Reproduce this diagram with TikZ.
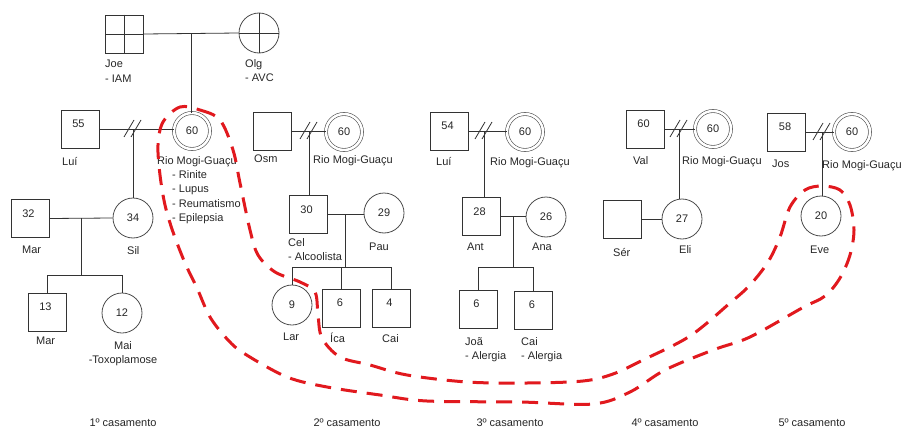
\documentclass[tikz,border=0pt]{standalone}
\usepackage{fontspec}
\setmainfont{Liberation Sans}
\usepackage{tikz}
\usetikzlibrary{calc}
\definecolor{risco}{RGB}{225,25,30}
\newcommand\idade[1]{\raisebox{1.2pt}[0pt][0pt]{\makebox[0pt]{#1\hspace{3pt}}}}
\newcommand\separa[1]{\draw[rel] ([shift={(-9,8)}]#1) -- ++(10,-17) ([shift={(-2,8)}]#1) -- ++(10,-17);}

\begin{document}
\begin{tikzpicture}[x=1pt, y=-1pt, font=\fontsize{11}{14.5}\selectfont,
    every node/.style={text=black!85},
    sq/.style={draw=black!80, line width=0.8pt, minimum size=38pt, inner sep=0pt},
    fem/.style={circle, draw=black!70, line width=0.8pt, minimum size=40pt, inner sep=0pt},
    prob/.style={circle, draw=black!70, line width=0.6pt, double, double distance=2.5pt, minimum size=36pt, inner sep=0pt},
    lbl/.style={anchor=north west, inner sep=0pt, align=left},
    rel/.style={draw=black!80, line width=0.8pt}]
    \useasboundingbox (0,0) rectangle (902,428);
    % avos
    \node[sq] (joe) at (124.5,34) {};
    \node[fem] (olg) at (259,33) {};
    \draw[rel] (joe.north) -- (joe.south) (joe.west) -- (joe.east);
    \draw[rel] (olg.north) -- (olg.south) (olg.west) -- (olg.east);
    \draw[rel] (joe.east) -- (olg.west);
    \coordinate (avos) at ($(joe.east)!0.5!(olg.west)$);
    \node[lbl] (joeL) at (105,60) {Joe\\- IAM};
    \node[lbl] (olgL) at (245,59) {Olg\\- AVC};
    % 1o casamento
    \node[sq] (lui1) at (80,129) {\idade{55}};
    \node[prob] (rio1) at (192,131) {60};
    \draw[rel] (avos) -- (avos |- rio1.north);
    \draw[rel] (lui1.east) -- (lui1.east -| rio1.west);
    \coordinate (d1) at (133,129);
    \separa{d1}
    \node[sq] (mar1) at (30,218.5) {\idade{32}};
    \node[fem] (sil) at (133,218) {34};
    \draw[rel] (d1) -- (sil.north);
    \draw[rel] (mar1.east) -- (sil.west);
    \coordinate (c1) at ($(mar1.east)!0.5!(sil.west)$);
    \draw[rel] (c1) -- ++(0,57) coordinate (f1);
    \node[sq] (mar2) at (47,312) {\idade{13}};
    \node[fem] (mai) at (122,313) {12};
    \draw[rel] (mar2.north) |- (f1) -| (mai.north);
    \node[lbl] (lui1L) at (62,157) {Luí};
    \node[lbl] (rio1L) at (157,156) {Rio Mogi-Guaçu};
    \node[lbl] (doen) at (172,170) {- Rinite\\- Lupus\\- Reumatismo\\- Epilepsia};
    \node[lbl] (mar1L) at (22,246) {Mar};
    \node[lbl] (silL) at (127,246) {Sil};
    \node[lbl] (mar2L) at (36,337) {Mar};
    \node[anchor=north, inner sep=0pt, align=center] (maiL) at (123,341) {Mai\\-Toxoplamose};
    % 2o casamento
    \node[sq] (osm) at (272.5,131) {};
    \node[prob] (rio2) at (344,132) {60};
    \draw[rel] (osm.east) -- (osm.east -| rio2.west);
    \coordinate (d2) at (309,131);
    \separa{d2}
    \node[sq] (cel) at (308,214.5) {\idade{30}};
    \node[fem] (pau) at (384,213) {29};
    \draw[rel] (d2) -- (d2 |- cel.north);
    \draw[rel] (cel.east) -- (cel.east -| pau.west);
    \coordinate (c2) at ($(cel.east)!0.5!(cel.east -| pau.west)$);
    \draw[rel] (c2) -- ++(0,53) coordinate (f2);
    \node[fem] (lar) at (292,305) {9};
    \node[sq] (ica) at (341.5,308) {\idade{6}};
    \node[sq] (cai2) at (391,308) {\idade{4}};
    \draw[rel] (lar.north) |- (f2) -| (cai2.north);
    \draw[rel] (ica.north) -- (ica.north |- f2);
    \node[lbl] (osmL) at (254,155) {Osm};
    \node[lbl] (rio2L) at (313,155) {Rio Mogi-Guaçu};
    \node[lbl] (celL) at (288,238) {Cel\\- Alcoolista};
    \node[lbl] (pauL) at (369,243) {Pau};
    \node[lbl] (larL) at (283,333) {Lar};
    \node[lbl] (icaL) at (330,333) {Íca};
    \node[lbl] (cai2L) at (382,334) {Cai};
    % 3o casamento
    \node[sq] (lui3) at (449,131) {\idade{54}};
    \node[prob] (rio3) at (525,132) {60};
    \draw[rel] (lui3.east) -- (lui3.east -| rio3.west);
    \coordinate (d3) at (484,131);
    \separa{d3}
    \node[sq] (ant) at (481,216.5) {\idade{28}};
    \node[fem] (ana) at (546,217) {26};
    \draw[rel] (d3) -- (d3 |- ant.north);
    \draw[rel] (ant.east) -- (ant.east -| ana.west);
    \coordinate (c3) at ($(ant.east)!0.5!(ant.east -| ana.west)$);
    \draw[rel] (c3) -- ++(0,51) coordinate (f3);
    \node[sq] (joa) at (478,309) {\idade{6}};
    \node[sq] (cai3) at (533.5,310) {\idade{6}};
    \draw[rel] (joa.north) |- (f3) -| (cai3.north);
    \node[lbl] (lui3L) at (436,157) {Luí};
    \node[lbl] (rio3L) at (490,157) {Rio Mogi-Guaçu};
    \node[lbl] (antL) at (467,243) {Ant};
    \node[lbl] (anaL) at (532,243) {Ana};
    \node[lbl] (joaL) at (465,337) {Joã\\- Alergia};
    \node[lbl] (cai3L) at (521,337) {Cai\\- Alergia};
    % 4o casamento
    \node[sq] (val) at (645,129) {\idade{60}};
    \node[prob] (rio4) at (713,129) {60};
    \draw[rel] (val.east) -- (rio4.west);
    \coordinate (d4) at (679,129);
    \separa{d4}
    \node[fem] (eli) at (682,219) {27};
    \node[sq] (ser) at (622.5,219.5) {};
    \draw[rel] (d4) -- (d4 |- eli.north);
    \draw[rel] (ser.east) -- (ser.east -| eli.west);
    \node[lbl] (valL) at (633,156) {Val};
    \node[lbl] (rio4L) at (682,156) {Rio Mogi-Guaçu};
    \node[lbl] (serL) at (613,248) {Sér};
    \node[lbl] (eliL) at (679,245) {Eli};
    % 5o casamento
    \node[sq] (jos) at (786.5,132) {\idade{58}};
    \node[prob] (rio5) at (852,132) {60};
    \draw[rel] (jos.east) -- (rio5.west);
    \coordinate (d5) at (822,132);
    \separa{d5}
    \node[fem] (eve) at (821,216) {20};
    \draw[rel] (d5) -- (d5 |- eve.north);
    \node[lbl] (josL) at (772,160) {Jos};
    \node[lbl] (rio5L) at (822,160) {Rio Mogi-Guaçu};
    \node[lbl] (eveL) at (810,246) {Eve};
    % contorno das portadoras
    \draw[risco, line width=3pt, dash pattern=on 16pt off 10pt]
        plot[smooth cycle, tension=0.55] coordinates {
        (180,107) (200,110) (220,120) (233,150) (240,183) (250,230) (258,255)
        (275,272) (300,282) (315,292) (318,315) (322,338) (340,357) (370,365)
        (407,375) (467,382) (527,383) (583,381) (613,374) (643,360) (690,336)
        (730,303) (750,285) (768,262) (780,237) (790,207) (805,190) (822,186)
        (840,190) (850,205) (854,230) (850,255) (840,278) (825,296) (802,308)
        (750,337) (713,350) (665,370) (630,392) (593,404) (520,402) (427,401)
        (380,395) (327,387) (287,377) (245,354) (228,340) (210,317) (197,288)
        (185,263) (173,232) (165,205) (160,175) (158,145) (163,122)};
    % legendas
    \foreach \x/\n in {123/1, 347/2, 510/3, 665/4, 812/5}
        \node (cas\n) at (\x,423) {{\n}º casamento};
\end{tikzpicture}
\end{document}
